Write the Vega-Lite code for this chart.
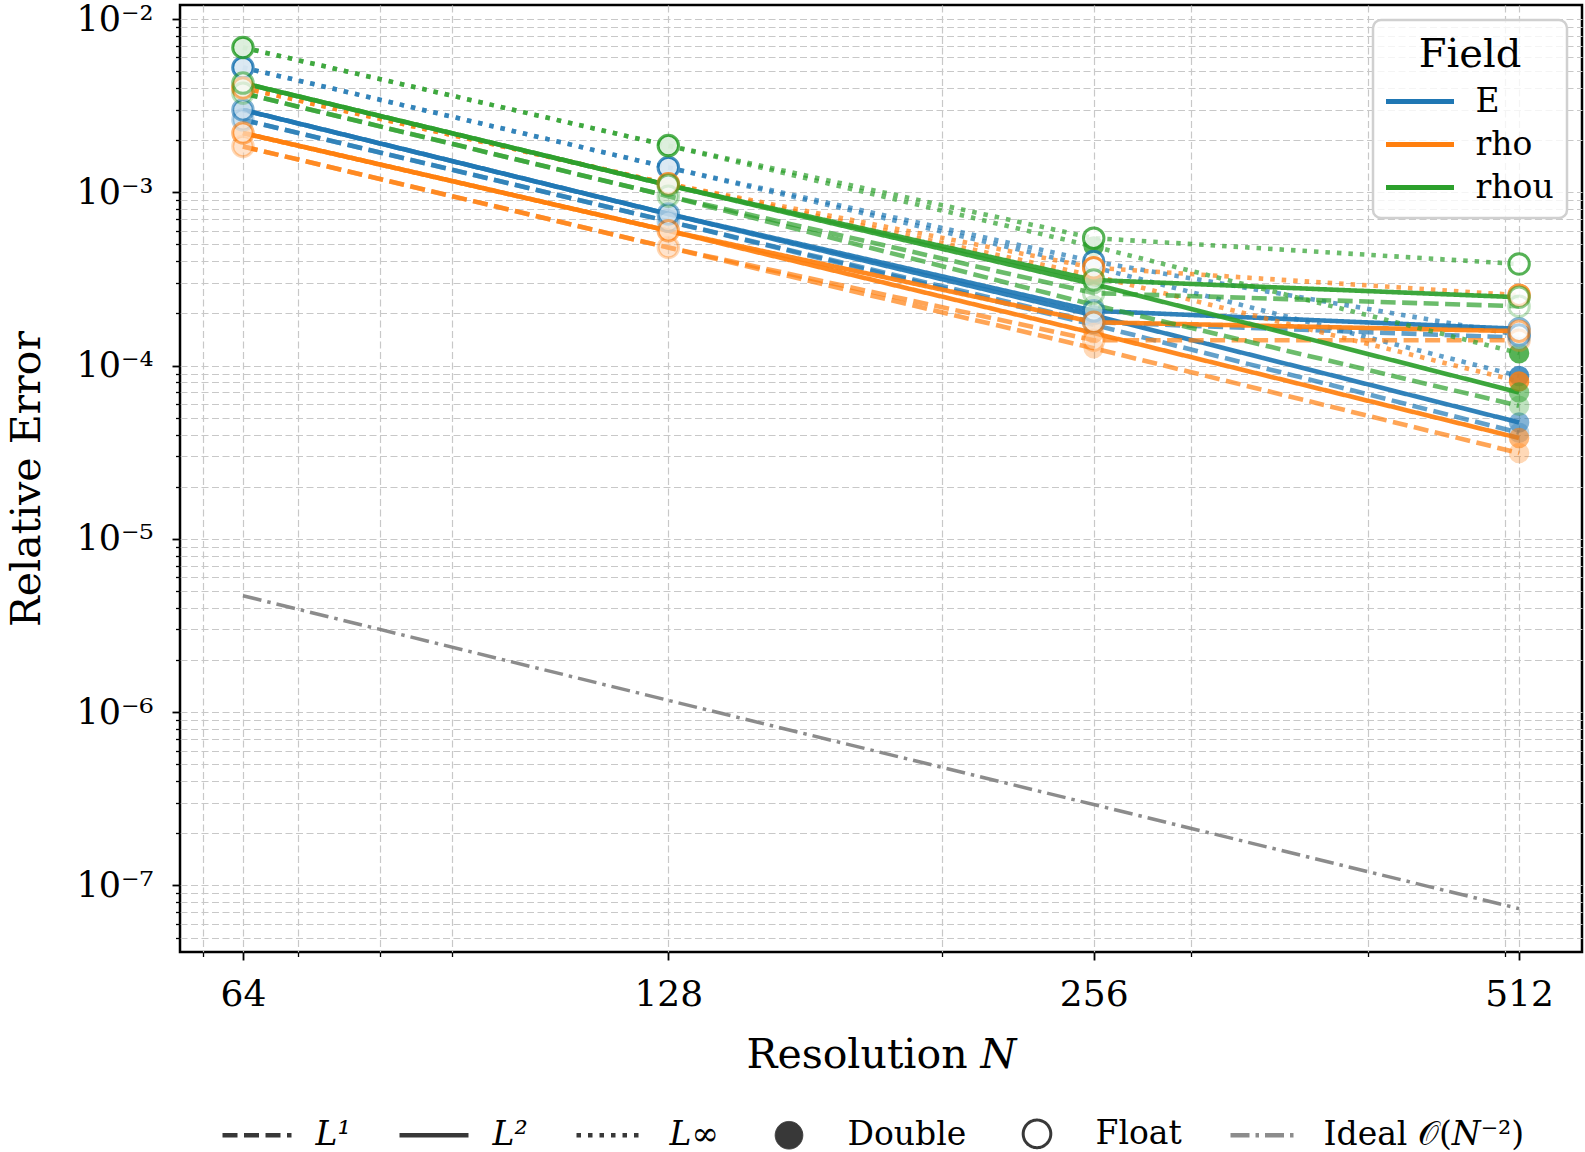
{
  "$schema": "https://vega.github.io/schema/vega-lite/v6.json",
  "width": 1402,
  "height": 947,
  "autosize": {"type": "none"},
  "padding": {"left": 180, "top": 5, "right": 3, "bottom": 200},
  "background": "white",
  "datasets": {
    "errors": [
      {"field": "E", "norm": "L1", "precision": "Double", "N": 64, "err": 0.00262},
      {"field": "E", "norm": "L1", "precision": "Double", "N": 128, "err": 0.00068},
      {"field": "E", "norm": "L1", "precision": "Double", "N": 256, "err": 0.000172},
      {"field": "E", "norm": "L1", "precision": "Double", "N": 512, "err": 0.000041},
      {"field": "E", "norm": "L1", "precision": "Float", "N": 64, "err": 0.00262},
      {"field": "E", "norm": "L1", "precision": "Float", "N": 128, "err": 0.00068},
      {"field": "E", "norm": "L1", "precision": "Float", "N": 256, "err": 0.000178},
      {"field": "E", "norm": "L1", "precision": "Float", "N": 512, "err": 0.000145},
      {"field": "E", "norm": "L2", "precision": "Double", "N": 64, "err": 0.00299},
      {"field": "E", "norm": "L2", "precision": "Double", "N": 128, "err": 0.00075},
      {"field": "E", "norm": "L2", "precision": "Double", "N": 256, "err": 0.000195},
      {"field": "E", "norm": "L2", "precision": "Double", "N": 512, "err": 0.000047},
      {"field": "E", "norm": "L2", "precision": "Float", "N": 64, "err": 0.00299},
      {"field": "E", "norm": "L2", "precision": "Float", "N": 128, "err": 0.00075},
      {"field": "E", "norm": "L2", "precision": "Float", "N": 256, "err": 0.000207},
      {"field": "E", "norm": "L2", "precision": "Float", "N": 512, "err": 0.000163},
      {"field": "E", "norm": "Linf", "precision": "Double", "N": 64, "err": 0.00525},
      {"field": "E", "norm": "Linf", "precision": "Double", "N": 128, "err": 0.00139},
      {"field": "E", "norm": "Linf", "precision": "Double", "N": 256, "err": 0.00037},
      {"field": "E", "norm": "Linf", "precision": "Double", "N": 512, "err": 0.000087},
      {"field": "E", "norm": "Linf", "precision": "Float", "N": 64, "err": 0.00525},
      {"field": "E", "norm": "Linf", "precision": "Float", "N": 128, "err": 0.00139},
      {"field": "E", "norm": "Linf", "precision": "Float", "N": 256, "err": 0.000399},
      {"field": "E", "norm": "Linf", "precision": "Float", "N": 512, "err": 0.00015},
      {"field": "rho", "norm": "L1", "precision": "Double", "N": 64, "err": 0.00184},
      {"field": "rho", "norm": "L1", "precision": "Double", "N": 128, "err": 0.00048},
      {"field": "rho", "norm": "L1", "precision": "Double", "N": 256, "err": 0.000126},
      {"field": "rho", "norm": "L1", "precision": "Double", "N": 512, "err": 0.0000313},
      {"field": "rho", "norm": "L1", "precision": "Float", "N": 64, "err": 0.00184},
      {"field": "rho", "norm": "L1", "precision": "Float", "N": 128, "err": 0.00048},
      {"field": "rho", "norm": "L1", "precision": "Float", "N": 256, "err": 0.00014},
      {"field": "rho", "norm": "L1", "precision": "Float", "N": 512, "err": 0.00014},
      {"field": "rho", "norm": "L2", "precision": "Double", "N": 64, "err": 0.0022},
      {"field": "rho", "norm": "L2", "precision": "Double", "N": 128, "err": 0.0006},
      {"field": "rho", "norm": "L2", "precision": "Double", "N": 256, "err": 0.000154},
      {"field": "rho", "norm": "L2", "precision": "Double", "N": 512, "err": 0.0000382},
      {"field": "rho", "norm": "L2", "precision": "Float", "N": 64, "err": 0.0022},
      {"field": "rho", "norm": "L2", "precision": "Float", "N": 128, "err": 0.0006},
      {"field": "rho", "norm": "L2", "precision": "Float", "N": 256, "err": 0.000178},
      {"field": "rho", "norm": "L2", "precision": "Float", "N": 512, "err": 0.000158},
      {"field": "rho", "norm": "Linf", "precision": "Double", "N": 64, "err": 0.004},
      {"field": "rho", "norm": "Linf", "precision": "Double", "N": 128, "err": 0.00112},
      {"field": "rho", "norm": "Linf", "precision": "Double", "N": 256, "err": 0.00033},
      {"field": "rho", "norm": "Linf", "precision": "Double", "N": 512, "err": 0.000081},
      {"field": "rho", "norm": "Linf", "precision": "Float", "N": 64, "err": 0.004},
      {"field": "rho", "norm": "Linf", "precision": "Float", "N": 128, "err": 0.00112},
      {"field": "rho", "norm": "Linf", "precision": "Float", "N": 256, "err": 0.000367},
      {"field": "rho", "norm": "Linf", "precision": "Float", "N": 512, "err": 0.000255},
      {"field": "rhou", "norm": "L1", "precision": "Double", "N": 64, "err": 0.00373},
      {"field": "rhou", "norm": "L1", "precision": "Double", "N": 128, "err": 0.00095},
      {"field": "rhou", "norm": "L1", "precision": "Double", "N": 256, "err": 0.000224},
      {"field": "rhou", "norm": "L1", "precision": "Double", "N": 512, "err": 0.0000586},
      {"field": "rhou", "norm": "L1", "precision": "Float", "N": 64, "err": 0.00373},
      {"field": "rhou", "norm": "L1", "precision": "Float", "N": 128, "err": 0.00095},
      {"field": "rhou", "norm": "L1", "precision": "Float", "N": 256, "err": 0.000262},
      {"field": "rhou", "norm": "L1", "precision": "Float", "N": 512, "err": 0.00022},
      {"field": "rhou", "norm": "L2", "precision": "Double", "N": 64, "err": 0.00427},
      {"field": "rhou", "norm": "L2", "precision": "Double", "N": 128, "err": 0.0011},
      {"field": "rhou", "norm": "L2", "precision": "Double", "N": 256, "err": 0.000295},
      {"field": "rhou", "norm": "L2", "precision": "Double", "N": 512, "err": 0.00007},
      {"field": "rhou", "norm": "L2", "precision": "Float", "N": 64, "err": 0.00427},
      {"field": "rhou", "norm": "L2", "precision": "Float", "N": 128, "err": 0.0011},
      {"field": "rhou", "norm": "L2", "precision": "Float", "N": 256, "err": 0.000312},
      {"field": "rhou", "norm": "L2", "precision": "Float", "N": 512, "err": 0.000248},
      {"field": "rhou", "norm": "Linf", "precision": "Double", "N": 64, "err": 0.00685},
      {"field": "rhou", "norm": "Linf", "precision": "Double", "N": 128, "err": 0.00186},
      {"field": "rhou", "norm": "Linf", "precision": "Double", "N": 256, "err": 0.000487},
      {"field": "rhou", "norm": "Linf", "precision": "Double", "N": 512, "err": 0.000118},
      {"field": "rhou", "norm": "Linf", "precision": "Float", "N": 64, "err": 0.00685},
      {"field": "rhou", "norm": "Linf", "precision": "Float", "N": 128, "err": 0.00186},
      {"field": "rhou", "norm": "Linf", "precision": "Float", "N": 256, "err": 0.000544},
      {"field": "rhou", "norm": "Linf", "precision": "Float", "N": 512, "err": 0.000386}
    ],
    "ideal": [
      {"norm": "Ideal", "N": 64, "err": 0.0000047},
      {"norm": "Ideal", "N": 128, "err": 0.00000117},
      {"norm": "Ideal", "N": 256, "err": 0.000000293},
      {"norm": "Ideal", "N": 512, "err": 0.0000000735}
    ]
  },
  "encoding": {
    "x": {
      "field": "N",
      "type": "quantitative",
      "scale": {"type": "log", "base": 2, "domain": [57.76, 567.3], "nice": false},
      "axis": {
        "title": "Resolution 𝑁",
        "values": [60, 64, 70, 80, 90, 128, 200, 256, 300, 400, 500, 512],
        "labelExpr": "indexof([64, 128, 256, 512], datum.value) >= 0 ? '' + datum.value : ''",
        "labelOverlap": false,
        "labelFlush": false,
        "labelPadding": 17,
        "titlePadding": 23,
        "tickSize": {"condition": {"test": "indexof([64, 128, 256, 512], datum.value) >= 0", "value": 8}, "value": 4.5},
        "tickWidth": {"condition": {"test": "indexof([64, 128, 256, 512], datum.value) >= 0", "value": 1.8}, "value": 1.3}
      }
    },
    "y": {
      "field": "err",
      "type": "quantitative",
      "scale": {"type": "log", "domain": [4.13e-8, 0.01205], "nice": false},
      "axis": {
        "title": "Relative Error",
        "values": [
          5e-8, 6e-8, 7e-8, 8e-8, 9e-8,
          1e-7, 2e-7, 3e-7, 4e-7, 5e-7, 6e-7, 7e-7, 8e-7, 9e-7,
          1e-6, 2e-6, 3e-6, 4e-6, 5e-6, 6e-6, 7e-6, 8e-6, 9e-6,
          1e-5, 2e-5, 3e-5, 4e-5, 5e-5, 6e-5, 7e-5, 8e-5, 9e-5,
          1e-4, 2e-4, 3e-4, 4e-4, 5e-4, 6e-4, 7e-4, 8e-4, 9e-4,
          1e-3, 2e-3, 3e-3, 4e-3, 5e-3, 6e-3, 7e-3, 8e-3, 9e-3,
          1e-2
        ],
        "labelExpr": "abs(log(datum.value) / LN10 - round(log(datum.value) / LN10)) < 0.001 ? '10' + replace(replace(replace(replace(replace(replace(replace('' + round(log(datum.value) / LN10), '-', '⁻'), '2', '²'), '3', '³'), '4', '⁴'), '5', '⁵'), '6', '⁶'), '7', '⁷') : ''",
        "labelOverlap": false,
        "labelFlush": false,
        "labelFontSize": 35,
        "labelPadding": 19,
        "titlePadding": 27,
        "tickSize": {"condition": {"test": "abs(log(datum.value) / LN10 - round(log(datum.value) / LN10)) < 0.001", "value": 8}, "value": 4.5},
        "tickWidth": {"condition": {"test": "abs(log(datum.value) / LN10 - round(log(datum.value) / LN10)) < 0.001", "value": 1.8}, "value": 1.3}
      }
    }
  },
  "layer": [
    {
      "data": {"name": "ideal"},
      "mark": {"type": "line", "color": "#808080", "strokeWidth": 3.5, "opacity": 0.9},
      "encoding": {
        "strokeDash": {"field": "norm", "type": "nominal"}
      }
    },
    {
      "data": {"name": "errors"},
      "mark": {"type": "line", "strokeWidth": 4.6, "strokeCap": "butt"},
      "encoding": {
        "color": {
          "field": "field",
          "type": "nominal",
          "scale": {"domain": ["E", "rho", "rhou"], "range": ["#1f77b4", "#ff7f0e", "#2ca02c"]},
          "legend": {
            "title": "Field",
            "orient": "top-right",
            "offset": 15,
            "symbolType": "M-2,0H2",
            "symbolSize": 1156,
            "symbolStrokeWidth": 5,
            "symbolOffset": 14.5,
            "labelOffset": 36,
            "labelFontSize": 33,
            "titleFontSize": 40,
            "titleFontWeight": "normal",
            "titleAnchor": "middle",
            "titlePadding": 9,
            "rowPadding": 6,
            "padding": 13,
            "fillColor": "rgba(255,255,255,0.8)",
            "strokeColor": "#d0d0d0",
            "cornerRadius": 8,
            "encode": {
              "title": {"update": {"dy": {"value": 2}}},
              "legend": {"update": {"strokeWidth": {"value": 2.5}}},
              "symbols": {"update": {"opacity": {"value": 1}}}
            }
          }
        },
        "strokeDash": {
          "field": "norm",
          "type": "nominal",
          "scale": {
            "domain": ["L1", "L2", "Linf", "Double", "Float", "Ideal"],
            "range": [[15, 6.5], [1, 0], [4.5, 7], [1, 0], [1, 0], [19, 6, 3.5, 6]]
          },
          "legend": {
            "orient": "none",
            "legendX": 46,
            "legendY": 1112,
            "direction": "horizontal",
            "title": null,
            "padding": 0,
            "symbolType": "M-2,0H2",
            "symbolSize": 1190,
            "symbolStrokeWidth": 4.5,
            "symbolOffset": 14.5,
            "labelFontSize": 33,
            "labelOffset": 42,
            "labelLimit": 0,
            "columnPadding": 39,
            "labelExpr": "datum.value == 'L1' ? 'L¹' : datum.value == 'L2' ? 'L²' : datum.value == 'Linf' ? 'L∞' : datum.value == 'Ideal' ? 'Ideal 𝒪(𝑁⁻²)' : datum.label",
            "encode": {
              "symbols": {
                "update": {
                  "shape": {"signal": "datum.value == 'Double' || datum.value == 'Float' ? 'M0.8,0A0.8,0.8,0,1,1,-0.8,0A0.8,0.8,0,1,1,0.8,0' : 'M-2,0H2'"},
                  "stroke": {"signal": "datum.value == 'Ideal' ? '#8c8c8c' : '#383838'"},
                  "fill": {"signal": "datum.value == 'Double' ? '#383838' : 'transparent'"},
                  "strokeWidth": {"signal": "datum.value == 'Float' ? 3 : (datum.value == 'Double' ? 1 : 4.5)"},
                  "opacity": {"value": 1}
                }
              },
              "labels": {
                "update": {
                  "fontStyle": {"signal": "indexof(['L1', 'L2', 'Linf'], datum.value) >= 0 ? 'italic' : 'normal'"}
                }
              }
            }
          }
        },
        "opacity": {
          "field": "norm",
          "type": "nominal",
          "scale": {"type": "ordinal", "domain": ["L1", "L2", "Linf"], "range": [0.7, 0.92, 0.7]},
          "legend": null
        },
        "detail": {"field": "precision", "type": "nominal"}
      }
    },
    {
      "data": {"name": "errors"},
      "transform": [{"filter": "datum.precision == 'Double'"}],
      "mark": {"type": "point", "shape": "circle", "filled": true, "size": 420, "strokeWidth": 3},
      "encoding": {
        "color": {"field": "field", "type": "nominal", "legend": null},
        "opacity": {"field": "norm", "type": "nominal", "legend": null}
      }
    },
    {
      "data": {"name": "errors"},
      "transform": [{"filter": "datum.precision == 'Float'"}],
      "mark": {"type": "point", "shape": "circle", "filled": false, "fill": "white", "size": 420, "strokeWidth": 3},
      "encoding": {
        "color": {"field": "field", "type": "nominal", "legend": null},
        "opacity": {"field": "norm", "type": "nominal", "legend": null}
      }
    }
  ],
  "config": {
    "font": "DejaVu Serif",
    "view": {"stroke": "black", "strokeWidth": 2.5},
    "axis": {
      "domain": false,
      "grid": true,
      "gridColor": "#c8c8c8",
      "gridDash": [7, 3.5],
      "gridWidth": 1.2,
      "tickColor": "black",
      "labelColor": "black",
      "titleColor": "black",
      "labelFont": "DejaVu Serif",
      "titleFont": "DejaVu Serif",
      "labelFontSize": 36,
      "titleFontSize": 41,
      "titleFontWeight": "normal"
    },
    "legend": {
      "labelFont": "DejaVu Serif",
      "titleFont": "DejaVu Serif",
      "labelColor": "black",
      "titleColor": "black"
    }
  }
}
